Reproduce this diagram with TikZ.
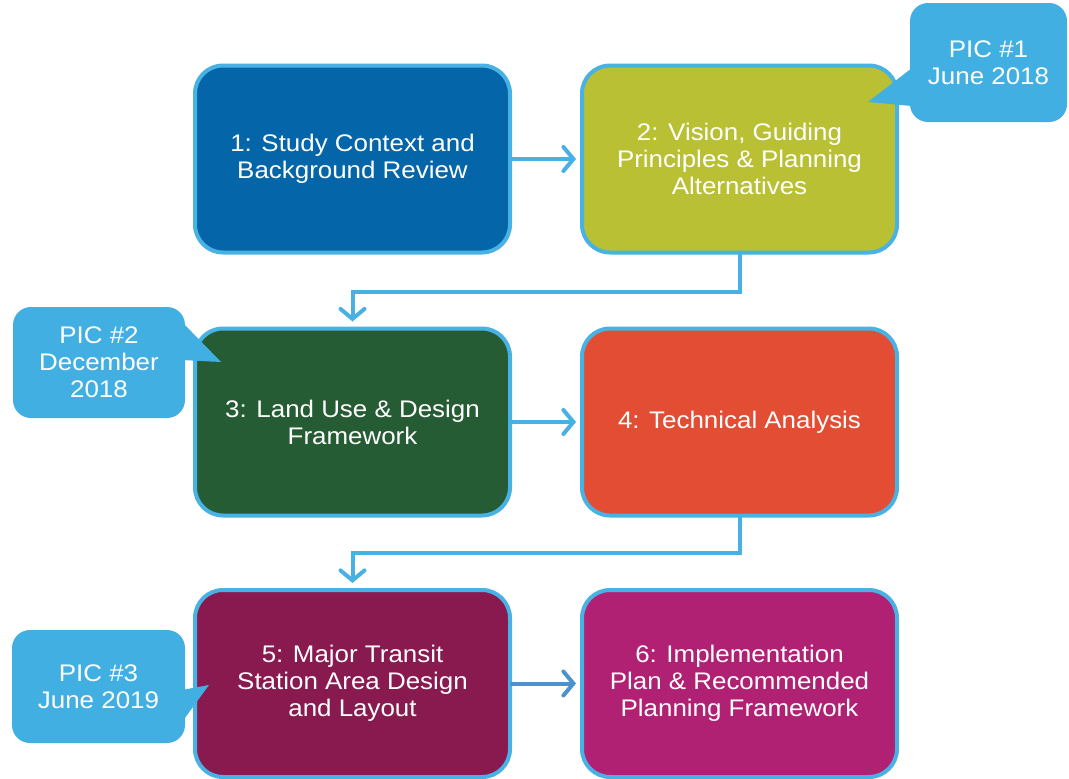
\documentclass[tikz,border=0pt]{standalone}
\usepackage{fontspec}
\setmainfont{Liberation Sans}[FakeStretch=1.08]
\usetikzlibrary{arrows.meta,calc}

\definecolor{rim}{RGB}{72,178,228}
\definecolor{bubble}{RGB}{66,175,226}
\definecolor{flow}{RGB}{72,176,226}
\definecolor{flowdark}{RGB}{76,146,204}
\definecolor{stepA}{RGB}{4,102,168}
\definecolor{stepB}{RGB}{185,192,52}
\definecolor{stepC}{RGB}{38,92,52}
\definecolor{stepD}{RGB}{226,77,52}
\definecolor{stepE}{RGB}{136,26,80}
\definecolor{stepF}{RGB}{176,33,116}

\tikzset{
  stepbox/.style={draw=rim, line width=4pt, rounded corners=28pt,
    minimum width=315pt, minimum height=187pt, inner sep=0pt, outer sep=0pt,
    text=white, align=center, font=\fontsize{24}{27}\selectfont},
  bubblebox/.style={fill=bubble, rounded corners=18pt,
    inner sep=0pt, outer sep=0pt, text=white, align=center,
    font=\fontsize{24}{27}\selectfont},
  flowline/.style={draw=flow, line width=4pt,
    -{Straight Barb[length=10pt,width=24pt,line cap=round]}},
}

\begin{document}
\begin{tikzpicture}[x=1pt,y=-1pt]
  \useasboundingbox (0,0) rectangle (1069,779);
  \fill[white] (0,0) rectangle (1069,779);

  % process steps
  \node[stepbox, fill=stepA] (s1) at (352.5,159) {1: Study Context and\\Background Review};
  \node[stepbox, fill=stepB] (s2) at (739.5,159) {2: Vision, Guiding\\Principles \& Planning\\Alternatives};
  \node[stepbox, fill=stepC] (s3) at (352.5,422) {3: Land Use \& Design\\Framework};
  \node[stepbox, fill=stepD] (s4) at (739.5,422) {4: Technical Analysis};
  \node[stepbox, fill=stepE] (s5) at (352.5,683.5) {5: Major Transit\\Station Area Design\\and Layout};
  \node[stepbox, fill=stepF] (s6) at (739.5,683.5) {6: Implementation\\Plan \& Recommended\\Planning Framework};

  % flow between steps
  \coordinate (row12) at (0,292);
  \coordinate (row23) at (0,553);
  \draw[flowline, shorten >=6pt] (s1.east) -- (s2.west);
  \draw[flowline, shorten >=6pt] (s3.east) -- (s4.west);
  \draw[flowline, draw=flowdark, shorten >=6pt] (s5.east) -- (s6.west);
  \draw[flowline, shorten >=7pt] (s2.south) -- (s2.south |- row12) -| (s3.north);
  \draw[flowline, shorten >=7pt] (s4.south) -- (s4.south |- row23) -| (s5.north);

  % meeting callouts
  \coordinate (t1a) at (912,68);
  \coordinate (t1b) at (868,102);
  \coordinate (t1c) at (912,106);
  \fill[bubble] (t1a) -- (t1b) -- (t1c) -- cycle;
  \node[bubblebox, minimum width=157pt, minimum height=119pt] (pic1) at (988.5,62.5) {PIC \#1\\June 2018};

  \coordinate (t2a) at (182,322);
  \coordinate (t2b) at (221,362);
  \coordinate (t2c) at (182,360);
  \fill[bubble] (t2a) -- (t2b) -- (t2c) -- cycle;
  \node[bubblebox, minimum width=172pt, minimum height=111pt] (pic2) at (99,362.5) {PIC \#2\\December\\2018};

  \coordinate (t3a) at (182,690);
  \coordinate (t3b) at (209,685);
  \coordinate (t3c) at (182,722);
  \fill[bubble] (t3a) -- (t3b) -- (t3c) -- cycle;
  \node[bubblebox, minimum width=173pt, minimum height=113pt] (pic3) at (98.5,686.5) {PIC \#3\\June 2019};
\end{tikzpicture}
\end{document}
